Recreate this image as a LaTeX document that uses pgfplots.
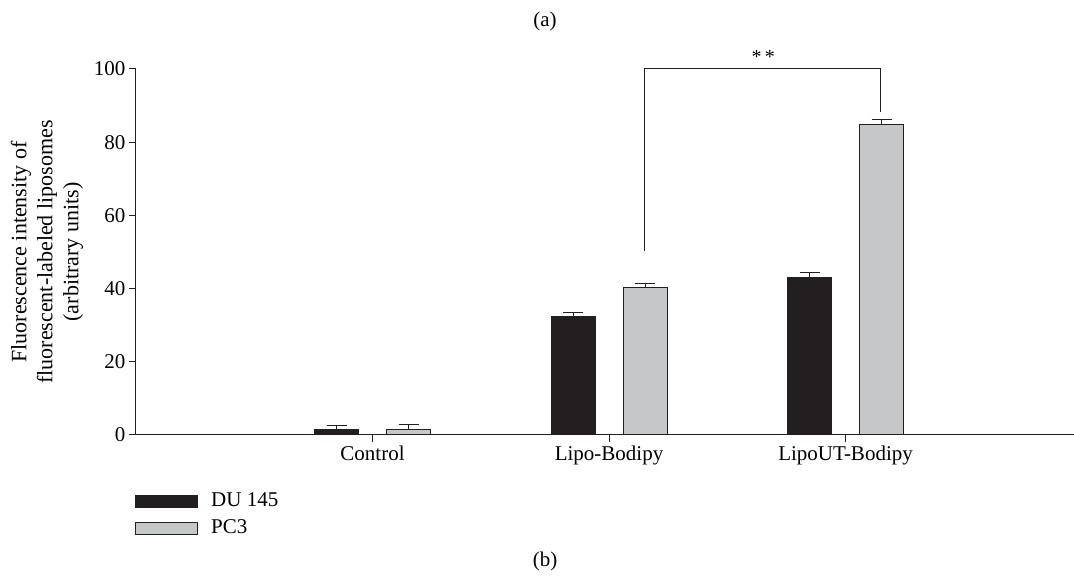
\documentclass[border=0pt]{standalone}
\usepackage{fontspec}
\setmainfont{Liberation Serif}
\usepackage{pgfplots}
\pgfplotsset{compat=1.18}
\definecolor{duc}{HTML}{231F20}
\definecolor{pcc}{HTML}{C6C7C9}

\begin{document}
\begin{tikzpicture}[x=1pt,y=1pt]
\path[use as bounding box] (0,0) rectangle (1074,578);
\node[font=\fontsize{21}{24}\selectfont] at (545,557) {(a)};
\node[font=\fontsize{21}{24}\selectfont] at (545,17) {(b)};
\begin{axis}[
    at={(136pt,143pt)}, anchor=south west,
    scale only axis, width=938pt, height=366pt,
    xmin=0, xmax=3.966, ymin=0, ymax=100,
    ybar=28pt, bar width=44pt,
    axis x line*=bottom, axis y line*=left,
    axis line style={duc, line width=1pt, -},
    xtick={1,2,3},
    xticklabels={Control,Lipo-Bodipy,LipoUT-Bodipy},
    ytick={0,20,40,60,80,100},
    tick align=outside,
    major tick length=7pt,
    tick style={duc, line width=1pt},
    tick label style={font=\fontsize{21}{24}\selectfont},
    /pgf/number format/assume math mode=true,
    ylabel={Fluorescence intensity of\\fluorescent-labeled liposomes\\(arbitrary units)},
    ylabel style={at={(axis description cs:-0.095,0.5)}, anchor=center,
        align=center, font=\fontsize{22}{26}\selectfont},
    clip=false,
    legend cell align=left,
    legend style={draw=none, fill=none, at={(rel axis cs:0,0)}, anchor=north west,
        xshift=-1pt, yshift=-57pt, inner sep=0pt, row sep=9.5pt,
        font=\fontsize{21}{24}\selectfont,
        nodes={inner sep=0pt, text height=14pt, text depth=4pt}},
    legend image code/.code={\draw[#1] (0pt,-6pt) rectangle (62pt,6pt);},
]

\addplot[fill=duc, draw=duc, line width=1pt,
    error bars/.cd, y dir=plus, y explicit,
    error bar style={line width=1pt, duc},
    error mark options={rotate=90, mark size=10pt, line width=1pt, duc}]
    coordinates {(1,1.6) +- (0,0.9) (2,32.3) +- (0,1.1) (3,43.0) +- (0,1.4)};
\addlegendentry{\hspace{13pt}DU 145}

\addplot[fill=pcc, draw=duc, line width=1pt,
    error bars/.cd, y dir=plus, y explicit,
    error bar style={line width=1pt, duc},
    error mark options={rotate=90, mark size=10pt, line width=1pt, duc}]
    coordinates {(1,1.6) +- (0,1.3) (2,40.2) +- (0,1.2) (3,84.7) +- (0,1.4)};
\addlegendentry{\hspace{13pt}PC3}

\draw[duc, line width=1pt] (axis cs:2.150,50.4) |- (axis cs:3.148,100) -- (axis cs:3.148,88.3);
\node[font=\fontsize{20}{24}\selectfont] at (axis cs:2.652,103.2) {*\,*};
\end{axis}
\end{tikzpicture}
\end{document}
